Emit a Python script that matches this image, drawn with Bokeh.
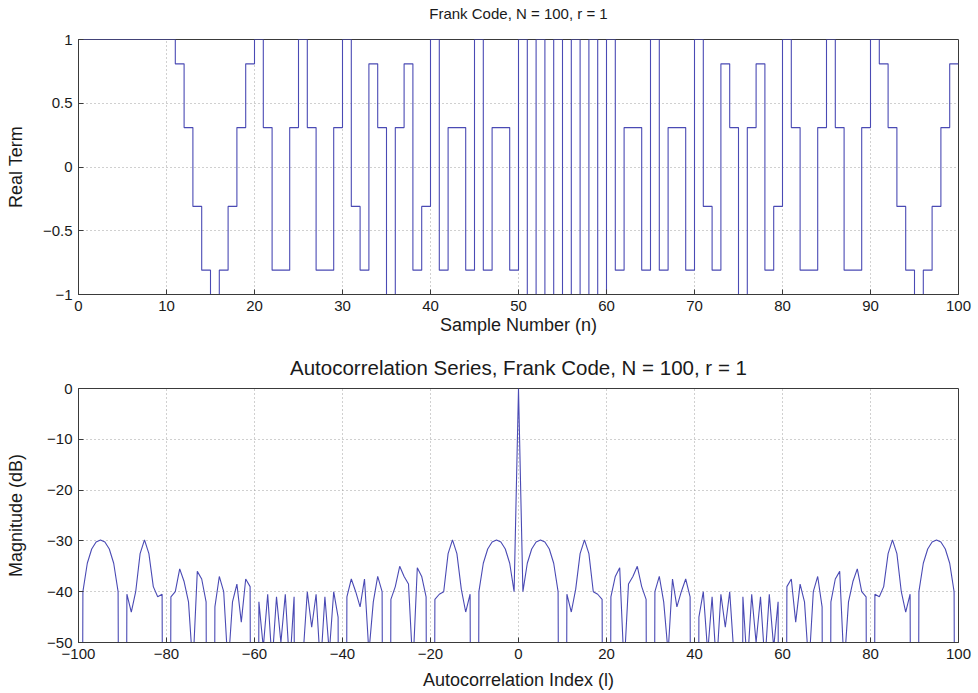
from bokeh.plotting import figure
from bokeh.models import Range1d, FixedTicker, LinearAxis
from bokeh.layouts import column
from bokeh.embed import file_html
from bokeh.resources import INLINE

# ---------------- data ----------------
top_title = "Frank Code, N = 100, r = 1"
bottom_title = "Autocorrelation Series, Frank Code, N = 100, r = 1"

sample_n = list(range(100))
real_term = [
    1, 1, 1, 1, 1, 1, 1, 1, 1, 1,
    1, 0.809, 0.309, -0.309, -0.809, -1, -0.809, -0.309, 0.309, 0.809,
    1, 0.309, -0.809, -0.809, 0.309, 1, 0.309, -0.809, -0.809, 0.309,
    1, -0.309, -0.809, 0.809, 0.309, -1, 0.309, 0.809, -0.809, -0.309,
    1, -0.809, 0.309, 0.309, -0.809, 1, -0.809, 0.309, 0.309, -0.809,
    1, -1, 1, -1, 1, -1, 1, -1, 1, -1,
    1, -0.809, 0.309, 0.309, -0.809, 1, -0.809, 0.309, 0.309, -0.809,
    1, -0.309, -0.809, 0.809, 0.309, -1, 0.309, 0.809, -0.809, -0.309,
    1, 0.309, -0.809, -0.809, 0.309, 1, 0.309, -0.809, -0.809, 0.309,
    1, 0.809, 0.309, -0.309, -0.809, -1, -0.809, -0.309, 0.309, 0.809,
]

# autocorrelation magnitude (dB) for lags 0..100 (symmetric in lag)
lag_pos = list(range(101))
acf_db_pos = [
    0,
    -40, -34.4, -31.6, -30.2, -29.8, -30.2, -31.6, -34.4, -40, -300,
    -40.5, -44, -39.5, -32.5, -29.8, -32.5, -40, -40.5, -41.5, -300,
    -41, -37, -35.3, -55, -38.5, -37, -35, -39, -41.5, -300,
    -40, -37, -42, -52, -37.5, -43, -40, -37.5, -41, -300,
    -45, -40, -52, -41, -55, -40.5, -47, -40, -53, -300,
    -41, -55, -40.5, -50, -41, -54, -40.5, -51, -42, -300,
    -39, -37.5, -46, -38.5, -42, -55, -40, -37, -43, -300,
    -42, -37.5, -36, -55, -42, -38, -35.5, -40, -41, -300,
    -40.5, -41, -39, -32.5, -29.8, -32.5, -40, -44, -40.5, -300,
    -40, -34.4, -31.6, -30.2, -29.8, -30.2, -31.6, -34.4, -40, -300,
]

top_xticks = [0, 10, 20, 30, 40, 50, 60, 70, 80, 90, 100]
top_yticks = [-1, -0.5, 0, 0.5, 1]
bot_xticks = [-100, -80, -60, -40, -20, 0, 20, 40, 60, 80, 100]
bot_yticks = [-50, -40, -30, -20, -10, 0]

# ---------------- style ----------------
FONT = "Liberation Sans"
LINE = "#4a4ab4"
AXC = "#3a3a3a"
TXT = "#1a1a1a"
TICK_FS = "15px"
LABEL_FS = "18px"


def style(p, xt, yt, title_text, title_fs, title_standoff):
    xb = p.below[0]
    yl = p.left[0]
    xb.ticker = FixedTicker(ticks=xt)
    yl.ticker = FixedTicker(ticks=yt)
    for ax in (xb, yl):
        ax.major_tick_in = 5
        ax.major_tick_out = 0
        ax.minor_tick_line_color = None
        ax.axis_line_color = AXC
        ax.major_tick_line_color = AXC
        ax.major_label_text_font = FONT
        ax.major_label_text_font_size = TICK_FS
        ax.major_label_text_color = TXT
        ax.axis_label_text_font = FONT
        ax.axis_label_text_font_style = "normal"
        ax.axis_label_text_font_size = LABEL_FS
        ax.axis_label_text_color = TXT
        ax.major_label_standoff = 6
    # title drawn as the label of a tick-less axis above the frame
    tax = LinearAxis(ticker=FixedTicker(ticks=[]), axis_label=title_text,
                     axis_line_color=None, major_tick_line_color=None,
                     minor_tick_line_color=None, major_tick_in=0, major_tick_out=0,
                     axis_label_text_font=FONT, axis_label_text_font_style="normal",
                     axis_label_text_font_size=title_fs, axis_label_text_color=TXT,
                     axis_label_standoff=title_standoff)
    p.add_layout(tax, "above")
    p.grid.grid_line_color = "#a0a0a0"
    p.grid.grid_line_dash = "1 3"
    p.outline_line_color = AXC
    p.background_fill_color = "white"
    p.border_fill_color = "white"
    return xb, yl


p1 = figure(width=978, height=346, x_range=Range1d(0, 100), y_range=Range1d(-1, 1),
            output_backend="svg", toolbar_location=None,
            min_border_left=78, min_border_right=20, min_border_top=39, min_border_bottom=52)
xb1, yl1 = style(p1, top_xticks, top_yticks, top_title, "15px", 18)
xb1.axis_label = "Sample Number (n)"
xb1.axis_label_standoff = 1
yl1.axis_label = "Real Term"
yl1.axis_label_standoff = 14

xs = sample_n + [sample_n[-1] + 1]
ys = real_term + [real_term[-1]]
p1.step(xs, ys, mode="after", line_color=LINE, line_width=1.1)

p2 = figure(width=978, height=347, x_range=Range1d(-100, 100), y_range=Range1d(-50, 0),
            output_backend="svg", toolbar_location=None,
            min_border_left=78, min_border_right=20, min_border_top=42, min_border_bottom=51)
xb2, yl2 = style(p2, bot_xticks, bot_yticks, bottom_title, "20.5px", 10)
xb2.axis_label = "Autocorrelation Index (l)"
xb2.axis_label_standoff = 8
yl2.axis_label = "Magnitude (dB)"
yl2.axis_label_standoff = 18

lags = [-l for l in reversed(lag_pos[1:])] + lag_pos
vals = list(reversed(acf_db_pos[1:])) + acf_db_pos
p2.line(lags, vals, line_color=LINE, line_width=1.1)

layout = column(p1, p2, spacing=0)
open("out.html", "w").write(file_html(layout, INLINE))
